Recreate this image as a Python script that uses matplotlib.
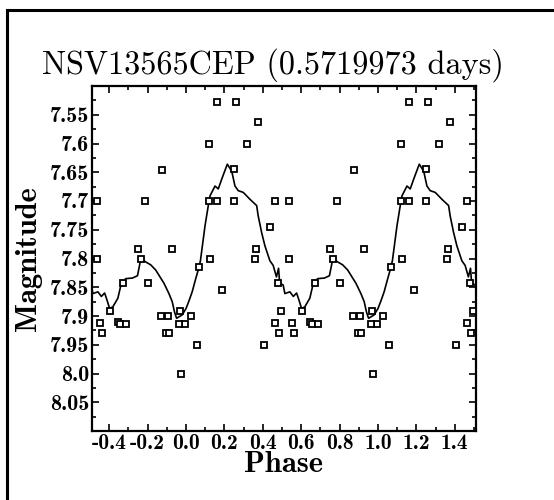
import matplotlib
matplotlib.use("Agg")
import matplotlib.pyplot as plt
from matplotlib.lines import Line2D
from matplotlib.ticker import FixedLocator, FixedFormatter, MultipleLocator

TITLE = "NSV13565CEP (0.5719973 days)"
X_LABEL = "Phase"
Y_LABEL = "Magnitude"

# individual observations, one cycle (phase 0..1); drawn at phase-1, phase, phase+1
obs_phase = [0.997, 0.025, 0.056, 0.070, 0.126, 0.120, 0.120, 0.159, 0.161, 0.189,
             0.251, 0.251, 0.260, 0.316, 0.366, 0.361, 0.377, 0.407, 0.440, 0.462,
             0.463, 0.479, 0.482, 0.494, 0.536, 0.537, 0.553, 0.562, 0.604, 0.645,
             0.654, 0.685, 0.670, 0.749, 0.768, 0.785, 0.800, 0.870, 0.877, 0.906,
             0.898, 0.910, 0.929, 0.970, 0.965, 0.973]
obs_mag = [7.914, 7.900, 7.950, 7.815, 7.800, 7.700, 7.600, 7.700, 7.527, 7.854,
           7.645, 7.700, 7.527, 7.600, 7.783, 7.800, 7.562, 7.950, 7.746, 7.700,
           7.913, 7.843, 7.930, 7.891, 7.700, 7.800, 7.913, 7.930, 7.891, 7.910,
           7.914, 7.914, 7.843, 7.783, 7.800, 7.700, 7.843, 7.900, 7.646, 7.900,
           7.929, 7.930, 7.783, 7.891, 7.914, 8.000]

# smoothed light curve, one cycle
fit_phase = [0.000, 0.014, 0.032, 0.049, 0.066, 0.075, 0.099, 0.116, 0.125, 0.151,
             0.168, 0.186, 0.215, 0.238, 0.255, 0.272, 0.298, 0.333, 0.368, 0.376,
             0.394, 0.411, 0.437, 0.454, 0.471, 0.482, 0.488, 0.506, 0.515, 0.541,
             0.559, 0.576, 0.588, 0.602, 0.619, 0.645, 0.663, 0.686, 0.721, 0.747,
             0.765, 0.790, 0.816, 0.842, 0.859, 0.885, 0.911, 0.928, 0.940, 0.951,
             0.980]
fit_mag = [7.887, 7.875, 7.858, 7.837, 7.817, 7.804, 7.743, 7.708, 7.691, 7.674,
           7.679, 7.662, 7.636, 7.648, 7.674, 7.682, 7.685, 7.697, 7.708, 7.726,
           7.755, 7.778, 7.804, 7.812, 7.832, 7.817, 7.843, 7.846, 7.861, 7.858,
           7.866, 7.860, 7.872, 7.887, 7.884, 7.869, 7.843, 7.835, 7.834, 7.830,
           7.800, 7.806, 7.811, 7.820, 7.829, 7.843, 7.861, 7.875, 7.893, 7.904,
           7.898]

x_ticks = [-0.4, -0.2, 0.0, 0.2, 0.4, 0.6, 0.8, 1.0, 1.2, 1.4]
x_labels = ["-0.4", "-0.2", "0.0", "0.2", "0.4", "0.6", "0.8", "1.0", "1.2", "1.4"]
y_ticks = [7.55, 7.6, 7.65, 7.7, 7.75, 7.8, 7.85, 7.9, 7.95, 8.0, 8.05]
y_labels = ["7.55", "7.6", "7.65", "7.7", "7.75", "7.8", "7.85", "7.9", "7.95",
            "8.0", "8.05"]

shifts = [-1, 0, 1]

plt.rcParams["axes.unicode_minus"] = False
REG = ["cmr10", "DejaVu Serif"]
BOLD = ["cmb10", "DejaVu Serif"]

fig = plt.figure(figsize=(5.54, 5.0), dpi=100)
ax = fig.add_axes([0.166, 0.138, 0.693, 0.690])

# folded curve, repeated over the shown phase range
lx, ly = [], []
for s in shifts:
    lx += [p + s for p in fit_phase]
    ly += fit_mag
ax.plot(lx, ly, color="black", lw=1.2, zorder=2)

px, py = [], []
for s in shifts:
    px += [p + s for p in obs_phase]
    py += obs_mag
ax.plot(px, py, ls="none", marker="s", ms=5, mfc="white", mec="black", mew=1.3, zorder=3)

ax.set_xlim(-0.49, 1.51)
ax.set_ylim(8.1, 7.5)

ax.xaxis.set_major_locator(FixedLocator(x_ticks))
ax.xaxis.set_major_formatter(FixedFormatter(x_labels))
ax.xaxis.set_minor_locator(MultipleLocator(0.1))
ax.yaxis.set_major_locator(FixedLocator(y_ticks))
ax.yaxis.set_major_formatter(FixedFormatter(y_labels))
ax.yaxis.set_minor_locator(MultipleLocator(0.025))
ax.tick_params(which="both", direction="in", top=True, right=True, width=1.2)
ax.tick_params(which="major", length=5, pad=2)
ax.tick_params(which="minor", length=3)
for lab in ax.get_xticklabels():
    lab.set_family(BOLD)
    lab.set_fontsize(15.5)
for lab in ax.get_yticklabels():
    lab.set_family(BOLD)
    lab.set_fontsize(16)
for sp in ax.spines.values():
    sp.set_linewidth(1.6)

ax.set_xlabel(X_LABEL, family=BOLD, fontsize=22)
ax.set_ylabel(Y_LABEL, family=BOLD, fontsize=22)
ax.xaxis.set_label_coords(0.5, -0.058)
ax.yaxis.set_label_coords(-0.13, 0.5)

fig.text(0.492, 0.870, TITLE, family=REG, fontsize=23.2, ha="center", va="center")

# outer page frame (left and top edges visible)
fig.add_artist(Line2D([0.013, 0.013], [0.0, 0.98], color="black", lw=2.2))
fig.add_artist(Line2D([0.013, 1.0], [0.98, 0.98], color="black", lw=2.2))

fig.savefig("out.png", dpi=100)
